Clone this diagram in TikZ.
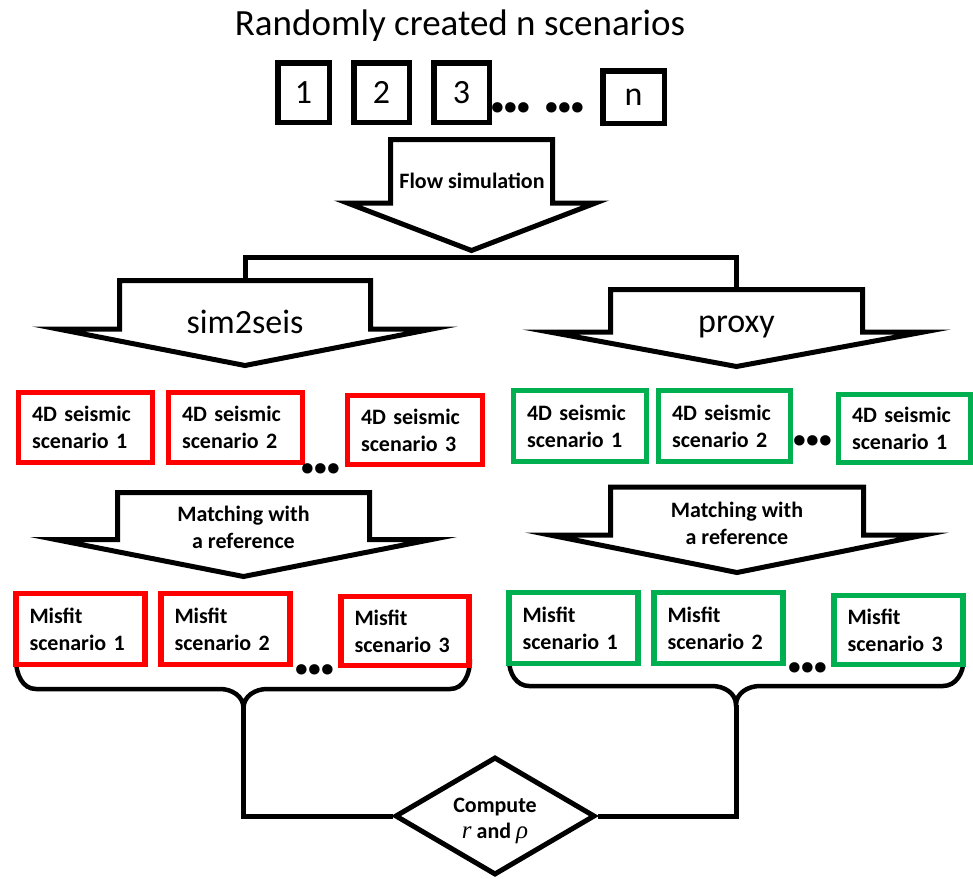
\documentclass[tikz,border=0pt]{standalone}
\usepackage{fontspec}
\setmainfont{Carlito}
\newfontfamily\symfont{Liberation Serif}
\usetikzlibrary{shapes.geometric}

\definecolor{boxred}{RGB}{255,0,0}
\definecolor{boxgreen}{RGB}{0,176,80}

\tikzset{
  titletext/.style={font=\fontsize{37}{40}\selectfont, anchor=base, inner sep=0pt},
  bigtext/.style={font=\fontsize{34}{38}\selectfont, anchor=base, inner sep=0pt},
  labeltext/.style={font=\fontsize{22}{27}\selectfont\bfseries, align=center, inner sep=0pt},
  dotstext/.style={font=\fontsize{70}{70}\selectfont\bfseries\addfontfeature{LetterSpace=-8},
                   anchor=base, inner sep=0pt},
  numbox/.style={draw=black, line width=5.5pt, fill=white, inner sep=0pt,
                 font=\fontsize{34}{38}\selectfont},
  scen/.style={line width=5.5pt, fill=white, align=left, inner xsep=13.5pt, inner ysep=0pt,
               font=\fontsize{22}{27}\selectfont\bfseries},
  barrow/.style={draw=black, line width=5pt, fill=white, line join=miter, miter limit=30},
  conn/.style={draw=black, line width=5pt},
  bracepath/.style={draw=black, line width=4.5pt, line cap=round},
  cmpbox/.style={diamond, draw=black, line width=5pt, fill=white, inner sep=0pt},
}

% italic symbols set in a serif face
\newcommand\var[1]{{\symfont\mdseries\itshape\fontsize{25}{26}\selectfont #1}}

% block arrow: name, centre x, top y, half shaft width, shoulder y, half head width, tip y
\newcommand\blockarrow[7]{%
  \draw[barrow] (#2,#3) -- (#2+#4,#3) -- (#2+#4,#5) -- (#2+#6,#5) -- (#2,#7)
    -- (#2-#6,#5) -- (#2-#4,#5) -- (#2-#4,#3) -- cycle;
  \coordinate (#1top) at (#2,#3);
  \coordinate (#1tip) at (#2,#7);}

% scenario box: name, centre x, centre y, inner text width, height, colour, line 1, line 2
\newcommand\scen[8]{%
  \node[scen, draw=#6, text width=#4pt, minimum height=#5pt] (#1) at (#2,#3) {#7\\#8};}

\begin{document}
\begin{tikzpicture}[x=1pt, y=-1pt]
  \useasboundingbox (0,0) rectangle (973,878);
  \fill[white] (0,0) rectangle (973,878);
  \clip (0,0) rectangle (973,878);

  % header
  \node[titletext] (title) at (460,35) {Randomly created n scenarios};
  \node[numbox, minimum width=51.5pt, minimum height=59.5pt] (b1) at (303.5,92.5) {1};
  \node[numbox, minimum width=55.5pt, minimum height=59.5pt] (b2) at (381.5,92.5) {2};
  \node[numbox, minimum width=55.5pt, minimum height=59.5pt] (b3) at (461.5,92.5) {3};
  \node[numbox, minimum width=61.5pt, minimum height=52.5pt] (bn) at (633.5,97) {n};
  \node[dotstext] (dtop1) at (511,112.5) {...};
  \node[dotstext] (dtop2) at (565,112.5) {...};

  % flow simulation and the split into two branches
  \coordinate (bar) at (471.5,257);
  \blockarrow{sim}{245}{280.5}{125.5}{329}{187}{365.5}
  \blockarrow{prox}{736.5}{289.5}{126}{332}{187}{366.5}
  \draw[conn] (simtop) |- (bar) -| (proxtop);
  \blockarrow{flow}{471.5}{139.5}{81}{203}{124}{250.5}
  \node[labeltext, anchor=base] (flowlbl) at (472,188) {Flow simulation};
  \node[bigtext] (simlbl) at (245,333) {sim2seis};
  \node[bigtext] (proxlbl) at (736.5,332) {proxy};

  % matching arrows
  \blockarrow{matchL}{243.5}{492.5}{126}{539.5}{188}{576.5}
  \blockarrow{matchR}{737}{487}{126.5}{535}{187}{572.5}
  \node[labeltext] (matchLlbl) at (243.5,527.5) {Matching with\\a reference};
  \node[labeltext] (matchRlbl) at (737,523) {Matching with\\a reference};

  % braces collecting the misfits
  \coordinate (lcusp) at (243.5,708);
  \coordinate (rcusp) at (736,705);
  \draw[bracepath] (16,660) to[out=-90,in=180] (36,689) -- (220,689)
    to[out=0,in=90] (lcusp) to[out=90,in=180] (267,689) -- (450,689)
    to[out=0,in=-90] (470,660);
  \draw[bracepath] (509,660) to[out=-90,in=180] (529,686) -- (712,686)
    to[out=0,in=90] (rcusp) to[out=90,in=180] (760,686) -- (943,686)
    to[out=0,in=-90] (963.5,660);

  % sim2seis branch (red)
  \scen{s1}{85.5}{427.5}{107}{70}{boxred}{4D seismic}{scenario 1}
  \scen{s2}{235.5}{427.5}{107}{70}{boxred}{4D seismic}{scenario 2}
  \scen{s3}{415}{430}{108}{69}{boxred}{4D seismic}{scenario 3}
  \node[dotstext] (ds) at (321,473.5) {...};
  \scen{m1}{80.5}{629}{102}{71}{boxred}{Misfit}{scenario 1}
  \scen{m2}{225.5}{629}{102}{71}{boxred}{Misfit}{scenario 2}
  \scen{m3}{405}{631}{101}{69}{boxred}{Misfit}{scenario 3}
  \node[dotstext] (dm) at (314.5,674.5) {...};

  % proxy branch (green)
  \scen{p1}{580}{426}{106}{71}{boxgreen}{4D seismic}{scenario 1}
  \scen{p2}{724.5}{426}{105}{71}{boxgreen}{4D seismic}{scenario 2}
  \scen{p3}{904.75}{428.5}{105.5}{68}{boxgreen}{4D seismic}{scenario 1}
  \node[dotstext] (dp) at (813,445.5) {...};
  \scen{q1}{573.5}{628}{102}{71}{boxgreen}{Misfit}{scenario 1}
  \scen{q2}{718.5}{628}{102}{71}{boxgreen}{Misfit}{scenario 2}
  \scen{q3}{898.5}{630}{102}{69}{boxgreen}{Misfit}{scenario 3}
  \node[dotstext] (dq) at (807.5,672.5) {...};

  % final computation
  \node[cmpbox, minimum width=200pt, minimum height=118pt] (cmp) at (495,816) {};
  \node[labeltext, font=\fontsize{22}{26}\selectfont\bfseries] (cmplbl)
    at ([yshift=-5pt]cmp.center) {Compute\\\var{r} and \var{ρ}};
  \draw[conn] (lcusp) |- (cmp.west);
  \draw[conn] (rcusp) |- (cmp.east);
\end{tikzpicture}
\end{document}
